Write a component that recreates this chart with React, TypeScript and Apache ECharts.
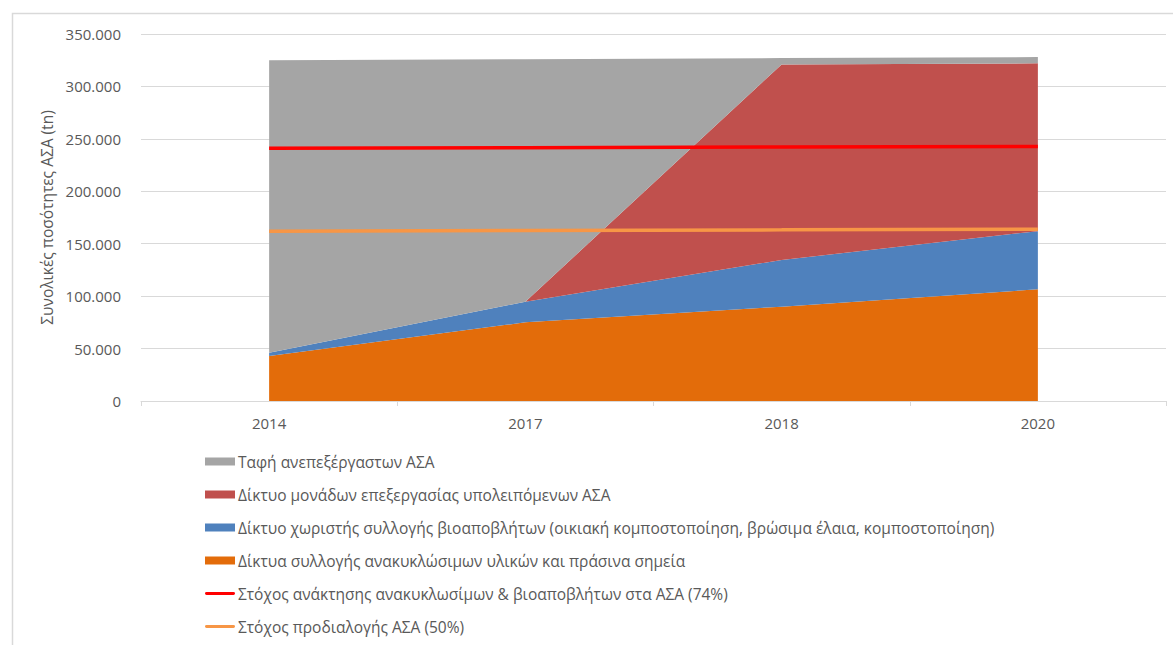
import React, { useEffect, useRef } from "react";
import * as echarts from "echarts";

const years = ["2014", "2017", "2018", "2020"];
const recyclables = [43000, 75000, 90000, 106500];
const bioWaste = [3000, 19700, 44500, 55500];
const residualTreatment = [0, 0, 186500, 160000];
const landfill = [279000, 231300, 6000, 6000];
const recoveryTarget = [241000, 241600, 242200, 242800];
const sortingTarget = [162000, 162700, 163200, 163800];

const NAME_LANDFILL = "Ταφή ανεπεξέργαστων ΑΣΑ";
const NAME_RESIDUAL = "Δίκτυο μονάδων επεξεργασίας υπολειπόμενων ΑΣΑ";
const NAME_BIO = "Δίκτυο χωριστής συλλογής βιοαποβλήτων (οικιακή κομποστοποίηση, βρώσιμα έλαια, κομποστοποίηση)";
const NAME_RECYC = "Δίκτυα συλλογής ανακυκλώσιμων υλικών και πράσινα σημεία";
const NAME_T74 = "Στόχος ανάκτησης ανακυκλωσίμων & βιοαποβλήτων στα ΑΣΑ (74%)";
const NAME_T50 = "Στόχος προδιαλογής ΑΣΑ (50%)";

const FONT = "'Open Sans', 'Noto Sans', sans-serif";
const TEXT = "#595959";
const LINE_ICON = "path://M0,0M30,8M1.5,2.6H28.5Q30,2.6 30,4Q30,5.4 28.5,5.4H1.5Q0,5.4 0,4Q0,2.6 1.5,2.6Z";

function fmt(v: number): string {
  if (v === 0) return "0";
  const s = String(Math.round(v));
  return s.replace(/\B(?=(\d{3})+(?!\d))/g, ".");
}

export default function App() {
  const ref = useRef<HTMLDivElement>(null);
  useEffect(() => {
    if (!ref.current) return;
    const chart = echarts.init(ref.current, undefined, { renderer: "svg" });
    const areaSeries = (name: string, data: number[], color: string) => ({
      name,
      type: "line",
      stack: "total",
      data,
      symbol: "none",
      lineStyle: { width: 0, color },
      itemStyle: { color },
      areaStyle: { color, opacity: 1 },
      z: 1,
    });
    chart.setOption({
      animation: false,
      textStyle: { fontFamily: FONT },
      graphic: [
        {
          type: "rect",
          shape: { x: 12.5, y: 13.5, width: 1200, height: 700 },
          style: { fill: "none", stroke: "#d9d9d9", lineWidth: 1.5 },
          silent: true,
        },
      ],
      grid: { left: 141, right: 7, top: 34, bottom: 244, containLabel: false },
      xAxis: {
        type: "category",
        data: years,
        boundaryGap: true,
        axisLine: { lineStyle: { color: "#d9d9d9", width: 1 } },
        axisTick: { show: true, length: 5, lineStyle: { color: "#d9d9d9" } },
        axisLabel: { color: TEXT, fontSize: 15, fontFamily: FONT, margin: 14 },
      },
      yAxis: {
        type: "value",
        min: 0,
        max: 350000,
        interval: 50000,
        name: "Συνολικές ποσότητες ΑΣΑ (tn)",
        nameLocation: "middle",
        nameGap: 86,
        nameTextStyle: { color: TEXT, fontSize: 15.5, fontFamily: FONT },
        axisLine: { show: false },
        axisTick: { show: false },
        axisLabel: { color: TEXT, fontSize: 15, fontFamily: FONT, margin: 20, formatter: (v: number) => fmt(v) },
        splitLine: { lineStyle: { color: "#d9d9d9", width: 1 } },
      },
      legend: {
        orient: "vertical",
        left: 205,
        top: 451,
        padding: 0,
        itemGap: 12,
        itemWidth: 30,
        itemHeight: 8,
        textStyle: { color: TEXT, fontSize: 15.5, fontFamily: FONT, padding: [0, 0, 0, -2], lineHeight: 21 },
        data: [
          { name: NAME_LANDFILL, icon: "rect" },
          { name: NAME_RESIDUAL, icon: "rect" },
          { name: NAME_BIO, icon: "rect" },
          { name: NAME_RECYC, icon: "rect" },
          { name: NAME_T74, icon: LINE_ICON },
          { name: NAME_T50, icon: LINE_ICON },
        ],
      },
      series: [
        areaSeries(NAME_RECYC, recyclables, "#E36C0A"),
        areaSeries(NAME_BIO, bioWaste, "#4F81BD"),
        areaSeries(NAME_RESIDUAL, residualTreatment, "#C0504D"),
        areaSeries(NAME_LANDFILL, landfill, "#A5A5A5"),
        {
          name: NAME_T74,
          type: "line",
          data: recoveryTarget,
          symbol: "none",
          lineStyle: { color: "#FF0000", width: 3.5 },
          itemStyle: { color: "#FF0000" },
          z: 3,
        },
        {
          name: NAME_T50,
          type: "line",
          data: sortingTarget,
          symbol: "none",
          lineStyle: { color: "#F79646", width: 3.5 },
          itemStyle: { color: "#F79646" },
          z: 3,
        },
      ],
    });
    return () => chart.dispose();
  }, []);
  return (
    <div
      ref={ref}
      style={{ position: "fixed", left: 0, top: 0, width: 1173, height: 645, background: "#fff" }}
    />
  );
}
